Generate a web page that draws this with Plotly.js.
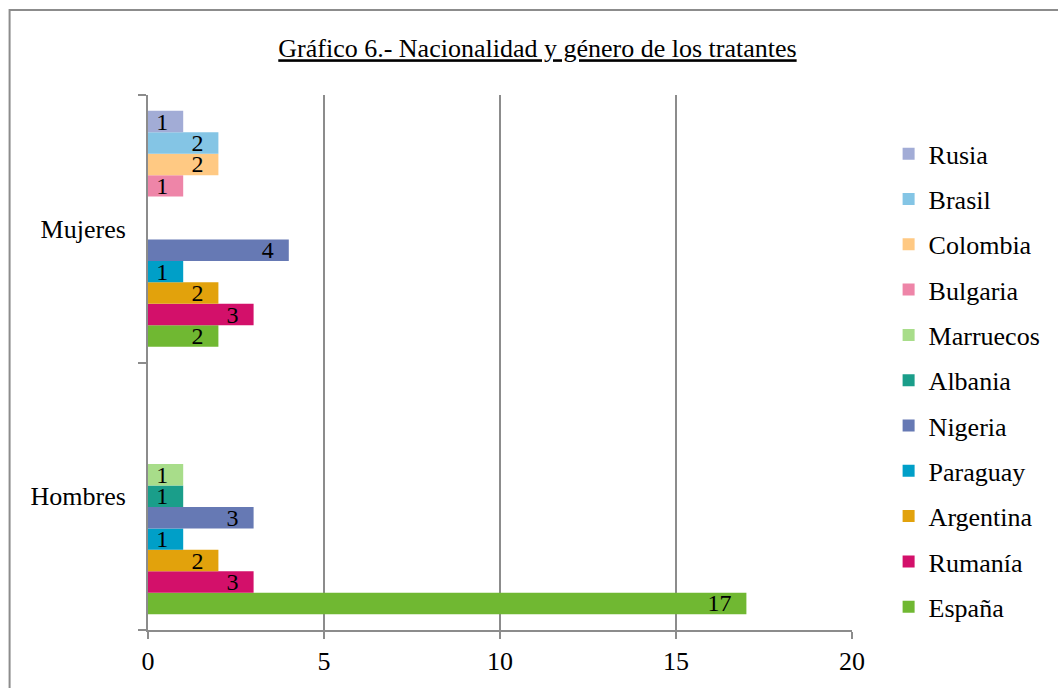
<!DOCTYPE html>
<html>
<head>
<meta charset="utf-8">
<script src="https://cdn.plot.ly/plotly-3.0.1.min.js"></script>
<style>
html,body{margin:0;padding:0;background:#fff;}
#chart{width:1058px;height:688px;}
</style>
</head>
<body>
<div id="chart"></div>
<script>
const categories = ['Hombres', 'Mujeres'];
const seriesNames = ['España', 'Rumanía', 'Argentina', 'Paraguay', 'Nigeria', 'Albania', 'Marruecos', 'Bulgaria', 'Colombia', 'Brasil', 'Rusia'];
const espana    = [17, 2];
const rumania   = [3, 3];
const argentina = [2, 2];
const paraguay  = [1, 1];
const nigeria   = [3, 4];
const albania   = [1, null];
const marruecos = [1, null];
const bulgaria  = [null, 1];
const colombia  = [null, 2];
const brasil    = [null, 2];
const rusia     = [null, 1];
const seriesValues = [espana, rumania, argentina, paraguay, nigeria, albania, marruecos, bulgaria, colombia, brasil, rusia];
const seriesColors = ['#70B832', '#D3106A', '#E2A20C', '#009FC8', '#6679B4', '#1A9E8A', '#A8DD8A', '#EE85A8', '#FFC983', '#84C5E5', '#A2ACD6'];
const xTicks = [0, 5, 10, 15, 20];

const FONT = "'Liberation Serif', 'Times New Roman', serif";

const traces = seriesNames.map((name, i) => ({
  type: 'bar',
  orientation: 'h',
  name: name,
  y: categories,
  x: seriesValues[i],
  text: seriesValues[i].map(v => v == null ? '' : String(v) + '\u00a0\u00a0'),
  textposition: 'inside',
  insidetextanchor: 'end',
  textangle: 0,
  constraintext: 'none',
  textfont: {family: FONT, size: 24, color: '#000'},
  marker: {color: seriesColors[i], line: {width: 0}},
  legendgroup: 'g' + i,
  legendrank: 100 - i,
  hoverinfo: 'x+name'
}));

const layout = {
  width: 1058,
  height: 688,
  margin: {l: 148, r: 203, t: 95, b: 58},
  paper_bgcolor: '#fff',
  plot_bgcolor: '#fff',
  font: {family: FONT, size: 26, color: '#000'},
  barmode: 'group',
  bargap: 0.118,
  bargroupgap: 0,
  title: {
    text: '<u>Gráfico 6.- Nacionalidad y género de los tratantes</u>',
    font: {family: FONT, size: 26, color: '#000'},
    xref: 'container', x: 0.508, xanchor: 'center',
    yref: 'container', y: 0.93, yanchor: 'middle'
  },
  xaxis: {
    range: [0, 20],
    tickvals: xTicks,
    ticktext: xTicks.map(String),
    showgrid: true,
    gridcolor: '#8c8c8c',
    gridwidth: 1.5,
    zeroline: false,
    showline: true,
    linecolor: '#8c8c8c',
    linewidth: 2,
    ticks: 'outside',
    ticklen: 7,
    tickwidth: 2,
    tickcolor: '#8c8c8c',
    tickfont: {family: FONT, size: 26, color: '#000'},
    fixedrange: true
  },
  yaxis: {
    type: 'category',
    categoryarray: categories,
    showgrid: false,
    zeroline: false,
    showline: true,
    linecolor: '#8c8c8c',
    linewidth: 2,
    ticks: 'outside',
    tickson: 'boundaries',
    ticklen: 8,
    tickwidth: 2,
    tickcolor: '#8c8c8c',
    ticklabelstandoff: 15,
    tickfont: {family: FONT, size: 26, color: '#000'},
    fixedrange: true
  },
  legend: {
    x: 1.052, xanchor: 'left',
    y: 0.934, yanchor: 'top',
    traceorder: 'grouped',
    tracegroupgap: 8.5,
    font: {family: FONT, size: 26, color: '#000'},
    bgcolor: 'rgba(0,0,0,0)',
    itemwidth: 30
  },
  shapes: [{
    type: 'rect', xref: 'paper', yref: 'paper',
    x0: (9 - 148) / 707, x1: (1070 - 148) / 707,
    y0: (630 - 700) / 535, y1: (630 - 10) / 535,
    line: {color: '#8c8c8c', width: 2},
    fillcolor: 'rgba(0,0,0,0)',
    layer: 'below'
  }],
  showlegend: true
};

Plotly.newPlot('chart', traces, layout, {displayModeBar: false, staticPlot: true});
</script>
</body>
</html>
